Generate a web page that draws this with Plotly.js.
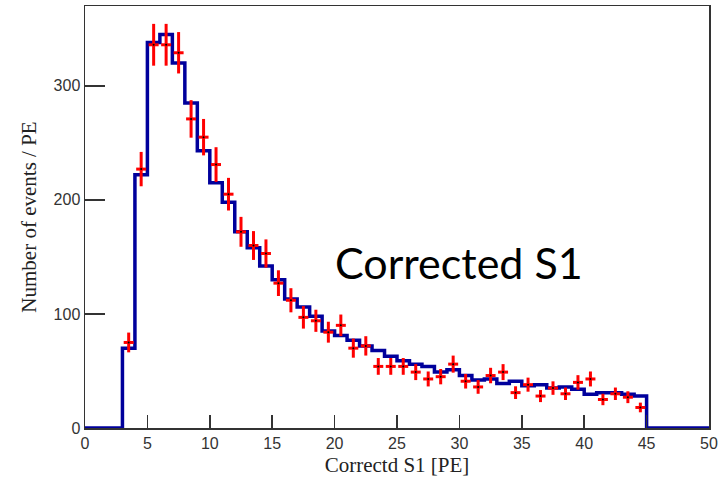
<!DOCTYPE html>
<html><head><meta charset="utf-8">
<script src="https://cdn.plot.ly/plotly-3.0.1.min.js"></script>
<style>html,body{margin:0;padding:0;background:#fff}#chart{width:727px;height:477px}</style>
</head><body><div id="chart"></div>
<script>
// Simulated histogram (blue), 1 PE bins, left edges
const binLeftEdges = [3,4,5,6,7,8,9,10,11,12,13,14,15,16,17,18,19,20,21,22,23,24,25,26,27,28,29,30,31,32,33,34,35,36,37,38,39,40,41,42,43,44];
const mcCounts = [70,222,338,345,320,285,243,215,198,172,158,142,130,113,106,98,85,81,77,72,68,63,59,56,54,49,51,46,42,43,39,41,37,38,35,36,34,29.5,31,31,29.5,28];
const histLow = 0, histLastEdge = 45, histHigh = 50;

// Measured data points (red), at bin centres
const dataCenters = [3.5,4.5,5.5,6.5,7.5,8.5,9.5,10.5,11.5,12.5,13.5,14.5,15.5,16.5,17.5,18.5,19.5,20.5,21.5,22.5,23.5,24.5,25.5,26.5,27.5,28.5,29.5,30.5,31.5,32.5,33.5,34.5,35.5,36.5,37.5,38.5,39.5,40.5,41.5,42.5,43.5,44.5];
const dataCounts = [75,227,336,336,329,271,255,231,205,172,160,153,127,112,97,94,84,90,70,72,54,54,54,49,43,45,56,41,36,46,49,31,38,28,35,30,40,43,25,30,27,18];

const xTickVals = [0,5,10,15,20,25,30,35,40,45,50];
const yTickVals = [0,100,200,300];

const stepX = [histLow].concat(binLeftEdges, [histLastEdge, histHigh]);
const stepY = [0].concat(mcCounts, [0, 0]);

const traces = [
  {
    x: stepX, y: stepY, type: 'scatter', mode: 'lines',
    line: {shape: 'hv', color: '#00009c', width: 3.5},
    hoverinfo: 'skip', showlegend: false
  },
  {
    x: dataCenters, y: dataCounts, type: 'scatter', mode: 'markers',
    marker: {color: '#000', size: 2},
    error_y: {type: 'sqrt', visible: true, color: '#ff0000', thickness: 3, width: 0},
    error_x: {type: 'constant', value: 0.4, visible: true, color: '#ff0000', thickness: 3, width: 0},
    showlegend: false
  }
];

const tickFont = {family: 'Liberation Sans, Arial, sans-serif', size: 16, color: '#333'};
const titleFont = {family: 'Liberation Serif, Times New Roman, serif', size: 21, color: '#222'};

const layout = {
  width: 727, height: 477,
  margin: {l: 85, r: 18, t: 6, b: 49},
  paper_bgcolor: '#fff', plot_bgcolor: '#fff',
  showlegend: false,
  xaxis: {
    range: [histLow, histHigh], tickvals: xTickVals, ticktext: xTickVals.map(String),
    ticks: 'inside', ticklen: 13, tickwidth: 1.5, tickcolor: '#333',
    showline: true, linecolor: '#333', linewidth: 1.5, mirror: true,
    showgrid: false, zeroline: false, tickfont: tickFont,
    title: {text: 'Correctd S1 [PE]', font: titleFont, standoff: 6}
  },
  yaxis: {
    range: [0, 370], tickvals: yTickVals, ticktext: yTickVals.map(String),
    ticks: 'inside', ticklen: 20, tickwidth: 1.5, tickcolor: '#333',
    showline: true, linecolor: '#333', linewidth: 1.5, mirror: true,
    showgrid: false, zeroline: false, tickfont: tickFont,
    title: {text: 'Number of events / PE', font: titleFont, standoff: 11}
  },
  annotations: [{
    x: 30, y: 145, xref: 'x', yref: 'y', text: 'Corrected S1', showarrow: false,
    font: {family: 'Lato, Liberation Sans, sans-serif', size: 43, color: '#000'}
  }]
};

Plotly.newPlot('chart', traces, layout, {displayModeBar: false, staticPlot: true});
</script>
</body></html>
